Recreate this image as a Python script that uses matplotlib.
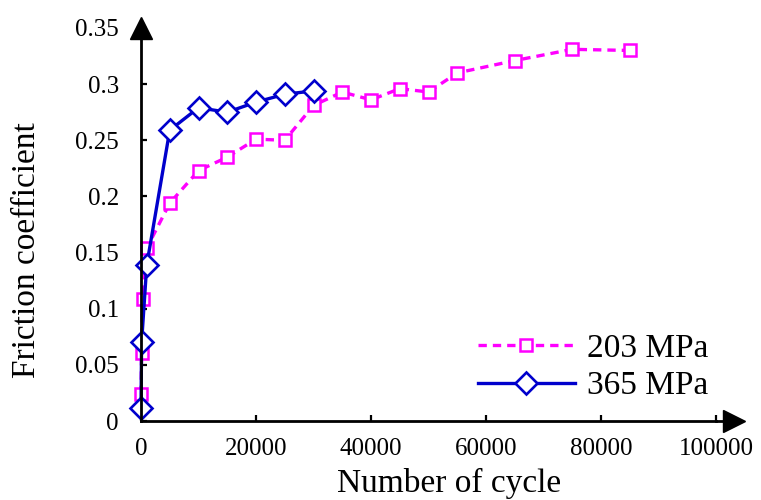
import matplotlib
matplotlib.use("Agg")
import matplotlib.pyplot as plt

# data
cycles_203 = [0, 100, 300, 1000, 5000, 10000, 15000, 20000, 25000, 30000,
              35000, 40000, 45000, 50000, 55000, 65000, 75000, 85000]
friction_203 = [0.024, 0.061, 0.109, 0.154, 0.194, 0.223, 0.235, 0.251, 0.250,
                0.281, 0.293, 0.286, 0.296, 0.293, 0.310, 0.321, 0.331, 0.330]

cycles_365 = [0, 100, 1000, 5000, 10000, 15000, 20000, 25000, 30000]
friction_365 = [0.012, 0.070, 0.139, 0.259, 0.279, 0.275, 0.284, 0.291, 0.294]

x_ticks = [0, 20000, 40000, 60000, 80000, 100000]
y_ticks = [0, 0.05, 0.1, 0.15, 0.2, 0.25, 0.3, 0.35]
y_tick_labels = ["0", "0.05", "0.1", "0.15", "0.2", "0.25", "0.3", "0.35"]


def main():
    plt.rcParams["font.family"] = ["Liberation Serif", "DejaVu Serif"]
    fig = plt.figure(figsize=(7.61, 5.0), dpi=100)
    ax = fig.add_axes([0.1853, 0.158, 0.7556, 0.786])

    line203, = ax.plot(cycles_203, friction_203, color="#FF00FF", lw=2.4,
                       marker="s", markersize=8, markerfacecolor="white",
                       markeredgecolor="#FF00FF", markeredgewidth=1.8,
                       label="203 MPa", zorder=3, clip_on=False)
    line203.set_dashes([2.5, 1.8])
    ax.plot(cycles_365, friction_365, color="#0000CC", lw=2.4,
            marker="D", markersize=11, markerfacecolor="white",
            markeredgecolor="#0000CC", markeredgewidth=1.9,
            label="365 MPa", zorder=4, clip_on=False)

    ax.set_xlim(0, 100000)
    ax.set_ylim(0, 0.35)
    ax.set_xticks(x_ticks)
    ax.set_xticklabels([str(v) for v in x_ticks])
    ax.set_yticks(y_ticks)
    ax.set_yticklabels(y_tick_labels)
    ax.tick_params(axis="both", direction="in", length=4.5, width=1.6,
                   labelsize=18)
    ax.tick_params(axis="x", pad=12)
    ax.tick_params(axis="y", pad=16)

    for side in ["top", "right"]:
        ax.spines[side].set_visible(False)
    for side in ["left", "bottom"]:
        ax.spines[side].set_linewidth(2)
        ax.spines[side].set_zorder(5)

    # arrow heads at the end of the axes
    ax.plot([1.0, 1.02], [0, 0], color="black", lw=2, transform=ax.transAxes,
            clip_on=False, zorder=5)
    ax.plot([1.031], [0], marker=">", markersize=16, color="black",
            transform=ax.transAxes, clip_on=False, zorder=6)
    ax.plot([0], [1.0], marker="^", markersize=16, color="black",
            transform=ax.transAxes, clip_on=False, zorder=6)

    ax.set_xlabel("Number of cycle", fontsize=24)
    ax.set_ylabel("Friction coefficient", fontsize=24)
    ax.xaxis.label.set_va("center")
    ax.yaxis.label.set_va("center")
    ax.xaxis.set_label_coords(0.535, -0.160)
    ax.yaxis.set_label_coords(-0.198, 0.435)

    ax.legend(loc="lower right", bbox_to_anchor=(1.021, -0.001), frameon=False,
              fontsize=24, handlelength=2.9, handletextpad=0.36,
              labelspacing=0.22, borderaxespad=0.2)

    fig.savefig("out.png", dpi=100)


if __name__ == "__main__":
    main()
